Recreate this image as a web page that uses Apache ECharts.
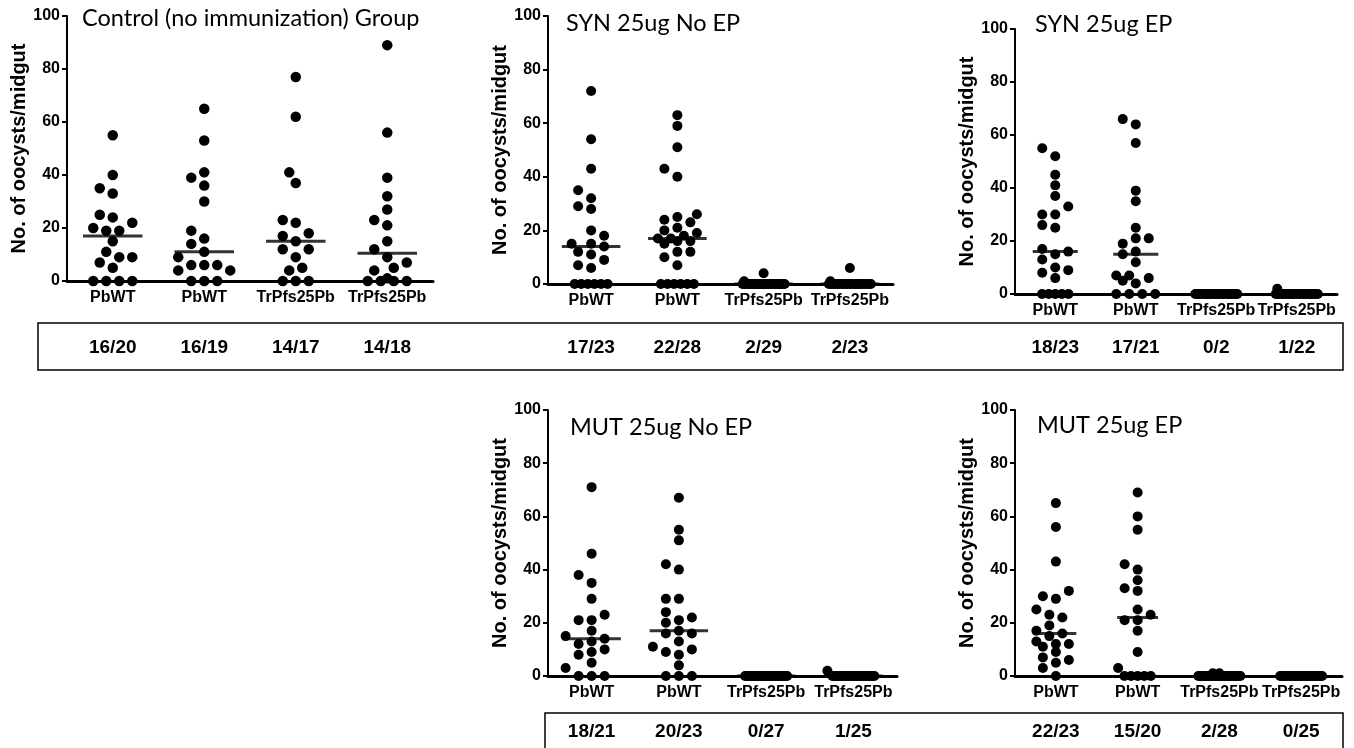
<!DOCTYPE html>
<html><head><meta charset="utf-8">
<script src="https://cdn.jsdelivr.net/npm/echarts@6/dist/echarts.min.js"></script>
<style>html,body{margin:0;padding:0;background:#fff}#c{width:1354px;height:748px}</style>
</head><body><div id="c"></div>
<script>
// ---------- DATA ----------
const categories = ['PbWT', 'PbWT', 'TrPfs25Pb', 'TrPfs25Pb'];
const yTicks = [0, 20, 40, 60, 80, 100];
const titles = ['Control (no immunization) Group', 'SYN 25ug No EP', 'SYN 25ug EP', 'MUT 25ug No EP', 'MUT 25ug EP'];
const yAxisTitle = 'No. of oocysts/midgut';

// Control (no immunization)
const ctrlPbWT1 = [55, 40, 35, 33, 25, 24, 22, 20, 19, 19, 15, 11, 9, 9, 7, 5, 0, 0, 0, 0];
const ctrlPbWT2 = [65, 53, 41, 39, 36, 30, 19, 16, 14, 11, 9, 6, 6, 6, 4, 4, 0, 0, 0];
const ctrlTr1 = [77, 62, 41, 37, 23, 22, 18, 17, 15, 12, 12, 9, 5, 4, 0, 0, 0];
const ctrlTr2 = [89, 56, 39, 32, 27, 23, 21, 15, 12, 9, 7, 5, 4, 1, 0, 0, 0, 0];
const ctrlFrac = ['16/20', '16/19', '14/17', '14/18'];

// SYN 25ug No EP
const synNoPbWT1 = [72, 54, 43, 35, 32, 29, 28, 20, 18, 15, 15, 14, 12, 11, 9, 7, 6, 0, 0, 0, 0, 0, 0];
const synNoPbWT2 = [63, 59, 51, 43, 40, 26, 25, 24, 23, 21, 20, 19, 18, 17, 17, 16, 16, 15, 12, 12, 10, 7, 0, 0, 0, 0, 0, 0];
const synNoTr1 = [4, 1, 0, 0, 0, 0, 0, 0, 0, 0, 0, 0, 0, 0, 0, 0, 0, 0, 0, 0, 0, 0, 0, 0, 0, 0, 0, 0, 0];
const synNoTr2 = [6, 1, 0, 0, 0, 0, 0, 0, 0, 0, 0, 0, 0, 0, 0, 0, 0, 0, 0, 0, 0, 0, 0];
const synNoFrac = ['17/23', '22/28', '2/29', '2/23'];

// SYN 25ug EP
const synEpPbWT1 = [55, 52, 45, 41, 37, 33, 30, 30, 26, 25, 17, 16, 15, 13, 10, 9, 8, 6, 0, 0, 0, 0, 0];
const synEpPbWT2 = [66, 64, 57, 39, 35, 25, 21, 21, 19, 16, 15, 12, 7, 7, 6, 5, 4, 0, 0, 0, 0];
const synEpTr1 = [0, 0, 0, 0, 0, 0, 0, 0, 0, 0, 0, 0, 0, 0, 0, 0, 0, 0, 0, 0, 0, 0];
const synEpTr2 = [2, 0, 0, 0, 0, 0, 0, 0, 0, 0, 0, 0, 0, 0, 0, 0, 0, 0, 0, 0, 0, 0];
const synEpFrac = ['18/23', '17/21', '0/2', '1/22'];

// MUT 25ug No EP
const mutNoPbWT1 = [71, 46, 38, 35, 29, 23, 21, 21, 17, 15, 14, 13, 12, 10, 9, 8, 5, 3, 0, 0, 0];
const mutNoPbWT2 = [67, 55, 51, 42, 40, 29, 29, 24, 22, 21, 20, 17, 16, 16, 13, 11, 10, 9, 8, 4, 0, 0, 0];
const mutNoTr1 = [0, 0, 0, 0, 0, 0, 0, 0, 0, 0, 0, 0, 0, 0, 0, 0, 0, 0, 0, 0, 0, 0, 0, 0, 0, 0, 0];
const mutNoTr2 = [2, 0, 0, 0, 0, 0, 0, 0, 0, 0, 0, 0, 0, 0, 0, 0, 0, 0, 0, 0, 0, 0, 0, 0, 0];
const mutNoFrac = ['18/21', '20/23', '0/27', '1/25'];

// MUT 25ug EP
const mutEpPbWT1 = [65, 56, 43, 32, 30, 29, 25, 23, 22, 19, 17, 16, 15, 13, 12, 12, 11, 9, 7, 6, 5, 3, 0];
const mutEpPbWT2 = [69, 60, 55, 42, 40, 36, 33, 32, 25, 23, 21, 21, 17, 9, 3, 0, 0, 0, 0, 0];
const mutEpTr1 = [1, 1, 0, 0, 0, 0, 0, 0, 0, 0, 0, 0, 0, 0, 0, 0, 0, 0, 0, 0, 0, 0, 0, 0, 0, 0, 0, 0];
const mutEpTr2 = [0, 0, 0, 0, 0, 0, 0, 0, 0, 0, 0, 0, 0, 0, 0, 0, 0, 0, 0, 0, 0, 0, 0, 0, 0];
const mutEpFrac = ['22/23', '15/20', '2/28', '0/25'];

const panelData = [
  [ctrlPbWT1, ctrlPbWT2, ctrlTr1, ctrlTr2],
  [synNoPbWT1, synNoPbWT2, synNoTr1, synNoTr2],
  [synEpPbWT1, synEpPbWT2, synEpTr1, synEpTr2],
  [mutNoPbWT1, mutNoPbWT2, mutNoTr1, mutNoTr2],
  [mutEpPbWT1, mutEpPbWT2, mutEpTr1, mutEpTr2]
];
const panelFrac = [ctrlFrac, synNoFrac, synEpFrac, mutNoFrac, mutEpFrac];

// ---------- LAYOUT ----------
const layout = [
  {left: 67, top: 16, width: 366, height: 265, nameGap: 34, tx: 82, ty: 21, med: 0.65, frac: 58, dot: 10.5},
  {left: 548, top: 16, width: 345, height: 268, nameGap: 33, tx: 566, ty: 26, med: 0.68, frac: 55, dot: 10},
  {left: 1015, top: 29, width: 322, height: 265, nameGap: 35, tx: 1035, ty: 27, med: 0.56, frac: 45, dot: 10},
  {left: 548, top: 410, width: 349, height: 266, nameGap: 31, tx: 570, ty: 430, med: 0.67, frac: 47, dot: 10},
  {left: 1015, top: 410, width: 327, height: 266, nameGap: 31, tx: 1037, ty: 428, med: 0.5, frac: 47, dot: 10}
];
const boldSans = '"Liberation Sans", Arial, sans-serif';
const titleFont = 'Lato, "Open Sans", sans-serif';
const titleSize = 23.5;

// beeswarm-like horizontal spreading (pixel offsets), computed from values
function swarm(values, ppu, cap, tieCap, h, minD) {
  const placed = [];
  const counts = {};
  values.forEach(v => counts[v] = (counts[v] || 0) + 1);
  Object.keys(counts).forEach(k => {
    const c = counts[k];
    if (c >= 3) {
      const base = c <= 4 ? 13 : 6.6;
      const sp = Math.min(base, 2 * tieCap / (c - 1));
      for (let i = 0; i < c; i++) placed.push({v: +k, off: (i - (c - 1) / 2) * sp});
    }
  });
  const rest = values.filter(v => counts[v] < 3).sort((a, b) => a - b);
  rest.forEach(v => {
    let best = 0, bestScore = -1, found = false;
    for (let k = 0; k * h <= cap && !found; k++) {
      const cands = k === 0 ? [0] : [-k * h, k * h];
      for (const off of cands) {
        let md = Infinity;
        for (const p of placed) md = Math.min(md, Math.hypot(p.off - off, (p.v - v) * ppu));
        if (md >= minD) { best = off; found = true; break; }
        if (md > bestScore) { bestScore = md; best = off; }
      }
    }
    placed.push({v, off: best});
  });
  return placed;
}
function median(arr) {
  const s = arr.slice().sort((a, b) => a - b);
  const n = s.length;
  return n % 2 ? s[(n - 1) / 2] : (s[n / 2 - 1] + s[n / 2]) / 2;
}

const grids = [], xAxes = [], yAxes = [], series = [], graphics = [];
layout.forEach((L, gi) => {
  grids.push({left: L.left, top: L.top, width: L.width, height: L.height, containLabel: false});
  const band = L.width / categories.length;
  xAxes.push({
    type: 'category', gridIndex: gi, data: categories, boundaryGap: true,
    axisLine: {lineStyle: {color: '#000', width: 3}},
    axisTick: {alignWithLabel: true, length: 5, lineStyle: {color: '#000', width: 2}},
    axisLabel: {interval: 0, color: '#000', fontFamily: boldSans, fontWeight: 'bold', fontSize: 16, margin: 9}
  });
  xAxes.push({
    type: 'category', gridIndex: gi, data: panelFrac[gi], boundaryGap: true, position: 'bottom',
    offset: L.frac - 9,
    axisLine: {show: false}, axisTick: {show: false},
    axisLabel: {interval: 0, color: '#000', fontFamily: boldSans, fontWeight: 'bold', fontSize: 19, margin: 8}
  });
  yAxes.push({
    type: 'value', gridIndex: gi, min: yTicks[0], max: yTicks[yTicks.length - 1], interval: yTicks[1] - yTicks[0],
    name: yAxisTitle, nameLocation: 'middle', nameGap: L.nameGap,
    nameTextStyle: {color: '#000', fontFamily: boldSans, fontWeight: 'bold', fontSize: 20},
    axisLine: {show: true, lineStyle: {color: '#000', width: 2}},
    axisTick: {show: true, length: 5, lineStyle: {color: '#000', width: 2}},
    axisLabel: {color: '#000', fontFamily: boldSans, fontWeight: 'bold', fontSize: 16, margin: 7},
    splitLine: {show: false}
  });
  const ppu = L.height / 100;
  const pts = [], meds = [];
  panelData[gi].forEach((vals, ci) => {
    swarm(vals, ppu, band * 0.3, 21, 6.5, L.dot + 0.5).forEach(p => {
      pts.push({value: [ci, p.v], symbolOffset: [p.off, 0]});
    });
    meds.push([ci, median(vals)]);
  });
  series.push({
    type: 'scatter', xAxisIndex: gi * 2, yAxisIndex: gi, data: pts,
    symbol: 'circle', symbolSize: L.dot, itemStyle: {color: '#000', opacity: 1},
    clip: false, silent: true, z: 3
  });
  series.push({
    type: 'scatter', xAxisIndex: gi * 2, yAxisIndex: gi, data: meds,
    symbol: 'rect', symbolSize: [band * L.med, 3], itemStyle: {color: '#000'},
    clip: false, silent: true, z: 4
  });
  graphics.push({
    type: 'text', left: L.tx, top: L.ty - titleSize * 0.62,
    style: {text: titles[gi], fill: '#000', font: titleSize + 'px ' + titleFont}
  });
});
graphics.push({type: 'rect', shape: {x: 38, y: 323, width: 1305, height: 47}, style: {fill: 'none', stroke: '#000', lineWidth: 1.5}});
graphics.push({type: 'rect', shape: {x: 545, y: 713, width: 798, height: 45}, style: {fill: 'none', stroke: '#000', lineWidth: 1.5}});

const chart = echarts.init(document.getElementById('c'), null, {renderer: 'canvas'});
chart.setOption({
  backgroundColor: '#fff', animation: false,
  grid: grids, xAxis: xAxes, yAxis: yAxes, series: series, graphic: graphics
});
</script>
</body></html>
